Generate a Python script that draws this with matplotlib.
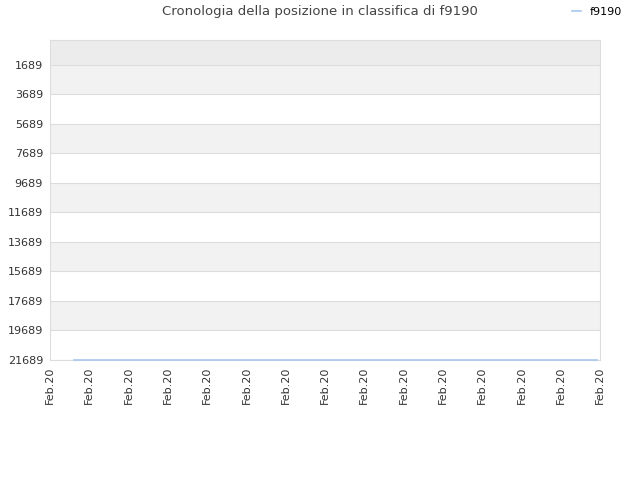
import numpy as np
import matplotlib
matplotlib.use('Agg')
import matplotlib.pyplot as plt

# data
x_days = [0.61, 13.93]
ranks = [21689, 21689]
tick_pos = list(range(15))
tick_labels = ['Feb.20'] * 15
y_ticks = [1689, 3689, 5689, 7689, 9689, 11689, 13689, 15689, 17689, 19689, 21689]

fig = plt.figure(figsize=(6.4, 4.8), dpi=100)
ax = fig.add_axes([50 / 640, 1 - 360 / 480, 550 / 640, 320 / 480])

y_top = 0
y_bot = 21689
# alternating background bands
ax.axhspan(y_top, y_ticks[0], color='#ececec', zorder=0, lw=0)
for i in range(len(y_ticks) - 1):
    c = '#f2f2f2' if i % 2 == 0 else 'white'
    ax.axhspan(y_ticks[i], y_ticks[i + 1], color=c, zorder=0, lw=0)
for t in y_ticks:
    ax.axhline(t, color='#dddddd', lw=0.8, zorder=1)

ax.plot(x_days, ranks, color='#a5c8ee', lw=1.2, label='f9190', zorder=5, clip_on=False)

ax.set_xlim(0, 14)
ax.set_ylim(y_bot, y_top)
ax.set_yticks(y_ticks)
ax.set_yticklabels([str(t) for t in y_ticks], fontsize=8, color='#333333')
ax.set_xticks(tick_pos)
ax.set_xticklabels(tick_labels, rotation=90, fontsize=8, color='#333333')
ax.tick_params(length=0, pad=5)
for s in ax.spines.values():
    s.set_color('#dddddd')
    s.set_zorder(2)

fig.text(0.5, 1 - 12 / 480, 'Cronologia della posizione in classifica di f9190',
         ha='center', va='center', fontsize=9.5, color='#444444')
fig.legend(loc='center', bbox_to_anchor=(597 / 640, 1 - 12 / 480), frameon=False,
           fontsize=8, handlelength=0.8)

fig.savefig('out.png', dpi=100)
